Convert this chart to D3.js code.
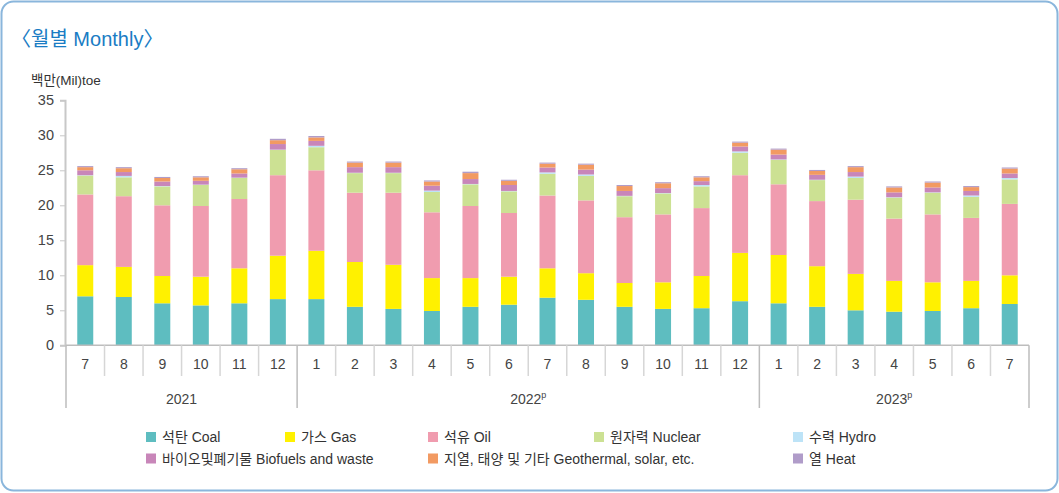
<!DOCTYPE html>
<html>
<head>
<meta charset="utf-8">
<script src="https://cdn.jsdelivr.net/npm/d3@7"></script>
<style>
  body { margin: 0; background: #fff; }
  svg { display: block; font-family: "Liberation Sans", "Noto Sans CJK KR", sans-serif; }
</style>
</head>
<body>
<div id="chart"></div>
<script>
// months on the x axis, grouped by year
const months = [7, 8, 9, 10, 11, 12, 1, 2, 3, 4, 5, 6, 7, 8, 9, 10, 11, 12, 1, 2, 3, 4, 5, 6, 7];
const yearLabels = ["2021", "2022", "2023"];
const yearSup = ["", "p", "p"];
const yearCounts = [6, 12, 7];

// series values, Mil toe
const coal    = [7.0, 6.9, 6.0, 5.7, 6.0, 6.6, 6.6, 5.5, 5.2, 4.9, 5.5, 5.8, 6.8, 6.5, 5.5, 5.2, 5.3, 6.3, 6.0, 5.5, 5.0, 4.8, 4.9, 5.3, 5.9];
const gas     = [4.45, 4.3, 3.9, 4.1, 5.0, 6.2, 6.9, 6.4, 6.3, 4.7, 4.1, 4.0, 4.2, 3.8, 3.4, 3.8, 4.6, 6.9, 6.9, 5.8, 5.2, 4.4, 4.1, 3.9, 4.1];
const oil     = [10.1, 10.1, 10.1, 10.1, 9.9, 11.5, 11.5, 9.9, 10.3, 9.4, 10.3, 9.1, 10.4, 10.4, 9.4, 9.7, 9.7, 11.1, 10.1, 9.3, 10.6, 8.9, 9.7, 9.0, 10.2];
const nuclear = [2.7, 2.7, 2.7, 3.0, 3.0, 3.6, 3.3, 2.8, 2.8, 2.9, 3.1, 3.1, 3.1, 3.5, 3.0, 3.0, 3.1, 3.2, 3.5, 3.0, 3.1, 3.0, 3.1, 3.0, 3.5];
const hydro   = [0.05, 0.2, 0.05, 0.05, 0.05, 0.05, 0.2, 0.05, 0.05, 0.2, 0.05, 0.05, 0.2, 0.2, 0.05, 0.05, 0.2, 0.2, 0.05, 0.05, 0.2, 0.05, 0.05, 0.2, 0.2];
const biofuel = [0.7, 0.55, 0.65, 0.55, 0.6, 0.8, 0.7, 0.8, 0.8, 0.7, 0.7, 0.85, 0.7, 0.7, 0.7, 0.7, 0.55, 0.7, 0.7, 0.7, 0.65, 0.7, 0.7, 0.65, 0.65];
const geo     = [0.45, 0.55, 0.5, 0.5, 0.6, 0.55, 0.5, 0.65, 0.65, 0.6, 0.85, 0.6, 0.55, 0.7, 0.7, 0.7, 0.55, 0.55, 0.7, 0.55, 0.7, 0.7, 0.7, 0.55, 0.7];
const heat    = [0.15, 0.15, 0.15, 0.15, 0.15, 0.2, 0.2, 0.15, 0.15, 0.15, 0.2, 0.15, 0.15, 0.15, 0.15, 0.15, 0.15, 0.15, 0.15, 0.15, 0.15, 0.15, 0.15, 0.15, 0.15];

const seriesNames = ["석탄 Coal", "가스 Gas", "석유 Oil", "원자력 Nuclear", "수력 Hydro",
  "바이오및폐기물 Biofuels and waste", "지열, 태양 및 기타 Geothermal, solar, etc.", "열 Heat"];
const seriesValues = [coal, gas, oil, nuclear, hydro, biofuel, geo, heat];
const colors = ["#5ebdc0", "#fff100", "#f09caf", "#cce193", "#bde3f7", "#c886b9", "#f29a62", "#b09cc9"];
const yTicks = [0, 5, 10, 15, 20, 25, 30, 35];

const W = 1059, H = 493;
const plotL = 66, plotR = 1029, plotT = 100.3, plotB = 345.3;

// build rows for the stack
const keys = seriesNames.map((d, i) => "s" + i);
const rows = months.map((m, i) => {
  const r = {id: i, month: m};
  keys.forEach((k, j) => r[k] = seriesValues[j][i]);
  return r;
});

const svg = d3.select("#chart").append("svg")
    .attr("width", W).attr("height", H);

// outer frame
svg.append("rect")
    .attr("x", 1.5).attr("y", 1.5).attr("width", W - 3).attr("height", H - 4)
    .attr("rx", 12).attr("fill", "none")
    .attr("stroke", "#8ab6dc").attr("stroke-width", 2);

// title (CJK brackets carry their own side bearing, so start a bit left)
svg.append("text")
    .attr("x", 11).attr("y", 46)
    .attr("fill", "#1a7cc4").attr("font-size", 20)
    .text("〈월별 Monthly〉");

svg.append("text")
    .attr("x", 31).attr("y", 85)
    .attr("fill", "#333").attr("font-size", 13.5)
    .text("백만(Mil)toe");

// scales
const x = d3.scaleBand()
    .domain(rows.map(d => d.id))
    .range([plotL, plotR])
    .paddingInner(0.585).paddingOuter(0.2925);

const y = d3.scaleLinear()
    .domain([0, 35])
    .range([plotB, plotT]);

// bars
const stacked = d3.stack().keys(keys)(rows);
svg.append("g").selectAll("g")
  .data(stacked)
  .join("g")
    .attr("fill", (d, i) => colors[i])
  .selectAll("rect")
  .data(d => d)
  .join("rect")
    .attr("x", d => x(d.data.id))
    .attr("width", x.bandwidth())
    .attr("y", d => y(d[1]))
    .attr("height", d => y(d[0]) - y(d[1]));

// y axis
const yAxis = svg.append("g")
    .attr("transform", `translate(${plotL - 1},0)`)
    .call(d3.axisLeft(y).tickValues(yTicks).tickSize(5).tickPadding(6));
yAxis.select(".domain").attr("stroke", "#c8c8c8").attr("stroke-width", 2);
yAxis.selectAll(".tick line").attr("stroke", "#c8c8c8");
yAxis.selectAll(".tick text")
    .attr("font-size", 14.5).attr("fill", "#444")
    .attr("font-family", "Liberation Sans, sans-serif");

// x axis: baseline, month separators, year separators
const step = x.step();
const xg = svg.append("g");
xg.append("line")
    .attr("x1", plotL).attr("x2", plotR)
    .attr("y1", plotB).attr("y2", plotB)
    .attr("stroke", "#bdbdbd").attr("stroke-width", 1.5);

const yearStarts = [];
let acc = 0;
yearCounts.forEach(c => { yearStarts.push(acc); acc += c; });

d3.range(months.length + 1).forEach(i => {
  const isYear = i === 0 || i === months.length || yearStarts.includes(i);
  xg.append("line")
      .attr("x1", plotL + i * step).attr("x2", plotL + i * step)
      .attr("y1", plotB).attr("y2", isYear ? 408 : 376)
      .attr("stroke", isYear ? "#bdbdbd" : "#d6d6d6")
      .attr("stroke-width", 1.5);
});

xg.selectAll("text.month")
  .data(rows)
  .join("text")
    .attr("class", "month")
    .attr("x", d => x(d.id) + x.bandwidth() / 2)
    .attr("y", 369)
    .attr("text-anchor", "middle")
    .attr("font-size", 14).attr("fill", "#444")
    .text(d => d.month);

yearLabels.forEach((lab, i) => {
  const cx = plotL + (yearStarts[i] + yearCounts[i] / 2) * step;
  const t = xg.append("text")
      .attr("x", cx).attr("y", 404)
      .attr("text-anchor", "middle")
      .attr("font-size", 14).attr("fill", "#444")
      .text(lab);
  if (yearSup[i]) {
    t.append("tspan")
        .attr("font-size", 9).attr("dy", -6)
        .text(yearSup[i]);
  }
});

// legend
const legendCols = [146, 285, 428, 594, 793];
const legendPos = [[0, 0], [1, 0], [2, 0], [3, 0], [4, 0], [0, 1], [2, 1], [4, 1]];
const lg = svg.append("g");
seriesNames.forEach((name, i) => {
  const gx = legendCols[legendPos[i][0]];
  const gy = 432 + legendPos[i][1] * 21.5;
  lg.append("rect")
      .attr("x", gx).attr("y", gy).attr("width", 10).attr("height", 10)
      .attr("fill", colors[i]);
  lg.append("text")
      .attr("x", gx + 16).attr("y", gy + 10)
      .attr("font-size", 14).attr("fill", "#333")
      .text(name);
});
</script>
</body>
</html>
